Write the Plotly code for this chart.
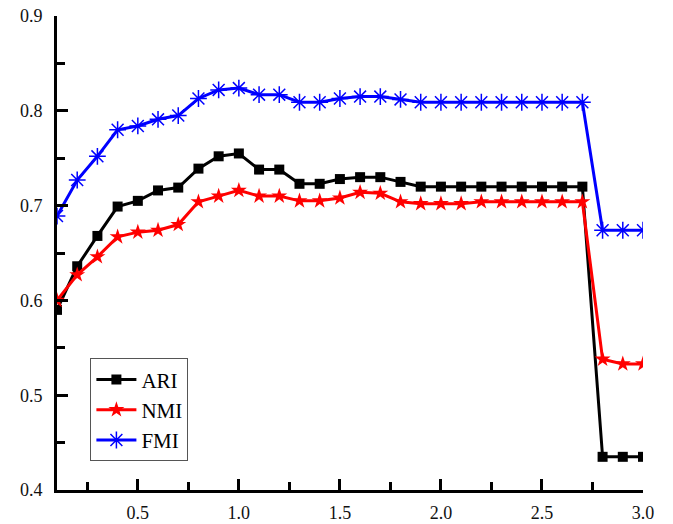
import plotly.graph_objects as go

x = [round(0.1 * i, 1) for i in range(1, 31)]

ari = [0.590, 0.636, 0.668, 0.699, 0.705, 0.716, 0.719, 0.739, 0.752, 0.755,
       0.738, 0.738, 0.723, 0.723, 0.728, 0.730, 0.730, 0.725, 0.720, 0.720,
       0.720, 0.720, 0.720, 0.720, 0.720, 0.720, 0.720, 0.435, 0.435, 0.435]
nmi = [0.600, 0.627, 0.646, 0.667, 0.672, 0.674, 0.680, 0.704, 0.710, 0.716,
       0.710, 0.710, 0.705, 0.705, 0.708, 0.714, 0.713, 0.704, 0.702, 0.702,
       0.702, 0.704, 0.704, 0.704, 0.704, 0.704, 0.704, 0.538, 0.533, 0.533]
fmi = [0.689, 0.727, 0.752, 0.780, 0.784, 0.791, 0.795, 0.813, 0.822, 0.824,
       0.817, 0.817, 0.809, 0.809, 0.813, 0.815, 0.815, 0.812, 0.809, 0.809,
       0.809, 0.809, 0.809, 0.809, 0.809, 0.809, 0.809, 0.674, 0.674, 0.674]

fig = go.Figure()
fig.add_trace(go.Scatter(x=x, y=ari, name="ARI", mode="lines+markers",
                         line=dict(color="black", width=3),
                         marker=dict(symbol="square", size=10, color="black")))
fig.add_trace(go.Scatter(x=x, y=nmi, name="NMI", mode="lines+markers",
                         line=dict(color="#ff0000", width=3),
                         marker=dict(symbol="star", size=12, color="#ff0000")))
fig.add_trace(go.Scatter(x=x, y=fmi, name="FMI", mode="lines+markers",
                         line=dict(color="#0000ff", width=3),
                         marker=dict(symbol="asterisk-open", size=14,
                                     line=dict(color="rgba(70,70,255,0.75)", width=1.5))))

axis_font = dict(family="Liberation Serif", size=18, color="#111111")
fig.update_layout(
    width=673, height=524,
    margin=dict(l=57, r=30, t=16, b=34),
    plot_bgcolor="white", paper_bgcolor="white",
    showlegend=True,
    legend=dict(x=0.057, y=0.278, xanchor="left", yanchor="top",
                bgcolor="white", bordercolor="#555555", borderwidth=1,
                font=dict(family="Liberation Serif", size=21, color="black"),
                itemwidth=40),
)
fig.update_xaxes(range=[0.1, 3.0], tickmode="linear", tick0=0, dtick=0.5,
                 tickformat=".1f", ticks="inside", ticklen=11, tickwidth=3,
                 tickcolor="black", showline=True, linewidth=3, linecolor="black",
                 showgrid=False, zeroline=False, tickfont=axis_font,
                 automargin=False, ticklabelstandoff=4,
                 minor=dict(ticks="inside", dtick=0.25, tick0=0, ticklen=8,
                            tickwidth=3, tickcolor="black", showgrid=False))
fig.update_yaxes(range=[0.4, 0.9], tickmode="array",
                 tickvals=[0.4, 0.5, 0.6, 0.7, 0.8, 0.9],
                 tickformat=".1f", ticks="inside", ticklen=11, tickwidth=3,
                 tickcolor="black", showline=True, linewidth=3, linecolor="black",
                 showgrid=False, zeroline=False, tickfont=axis_font,
                 automargin=False, ticklabelstandoff=8,
                 minor=dict(ticks="inside", tickvals=[0.45, 0.55, 0.65, 0.75, 0.85],
                            ticklen=8, tickwidth=3, tickcolor="black", showgrid=False))

fig.write_html("out.html", config={"displayModeBar": False},
               post_script="document.body.style.margin='0';document.body.style.overflow='hidden';")
